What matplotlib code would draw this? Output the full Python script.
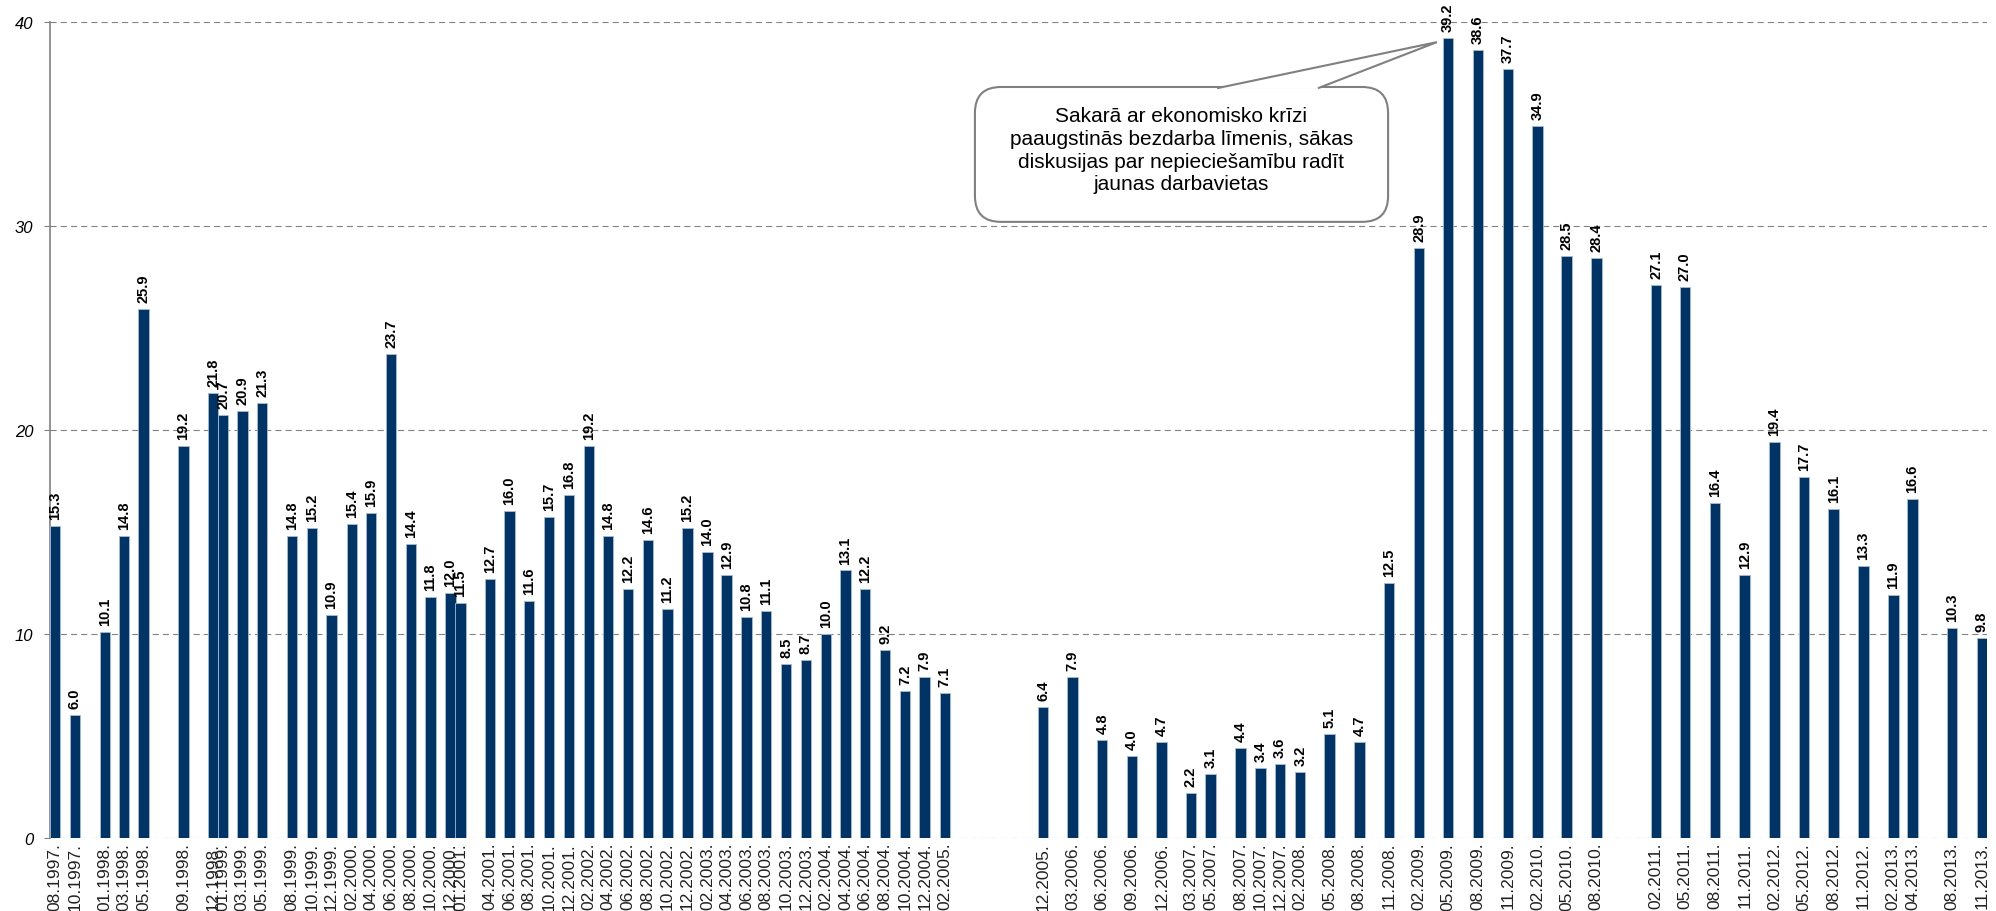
import matplotlib.pyplot as plt
import matplotlib.dates as mdates
import pandas as pd
from matplotlib.patches import FancyBboxPatch, Polygon

plt.rcParams['font.family'] = ['Liberation Sans', 'DejaVu Sans']

# datu punkti (mēnesis.gads)
months = [
    "08.1997", "10.1997", "01.1998", "03.1998", "05.1998", "09.1998", "12.1998",
    "01.1999", "03.1999", "05.1999", "08.1999", "10.1999", "12.1999", "02.2000",
    "04.2000", "06.2000", "08.2000", "10.2000", "12.2000", "01.2001", "04.2001",
    "06.2001", "08.2001", "10.2001", "12.2001", "02.2002", "04.2002", "06.2002",
    "08.2002", "10.2002", "12.2002", "02.2003", "04.2003", "06.2003", "08.2003",
    "10.2003", "12.2003", "02.2004", "04.2004", "06.2004", "08.2004", "10.2004",
    "12.2004", "02.2005", "12.2005", "03.2006", "06.2006", "09.2006", "12.2006",
    "03.2007", "05.2007", "08.2007", "10.2007", "12.2007", "02.2008", "05.2008",
    "08.2008", "11.2008", "02.2009", "05.2009", "08.2009", "11.2009", "02.2010",
    "05.2010", "08.2010", "02.2011", "05.2011", "08.2011", "11.2011", "02.2012",
    "05.2012", "08.2012", "11.2012", "02.2013", "04.2013", "08.2013", "11.2013",
]
values = [
    15.3, 6.0, 10.1, 14.8, 25.9, 19.2, 21.8,
    20.7, 20.9, 21.3, 14.8, 15.2, 10.9, 15.4,
    15.9, 23.7, 14.4, 11.8, 12.0, 11.5, 12.7,
    16.0, 11.6, 15.7, 16.8, 19.2, 14.8, 12.2,
    14.6, 11.2, 15.2, 14.0, 12.9, 10.8, 11.1,
    8.5, 8.7, 10.0, 13.1, 12.2, 9.2, 7.2,
    7.9, 7.1, 6.4, 7.9, 4.8, 4.0, 4.7,
    2.2, 3.1, 4.4, 3.4, 3.6, 3.2, 5.1,
    4.7, 12.5, 28.9, 39.2, 38.6, 37.7, 34.9,
    28.5, 28.4, 27.1, 27.0, 16.4, 12.9, 19.4,
    17.7, 16.1, 13.3, 11.9, 16.6, 10.3, 9.8,
]
y_ticks = [0, 10, 20, 30, 40]
note = ("Sakarā ar ekonomisko krīzi\n"
        "paaugstinās bezdarba līmenis, sākas\n"
        "diskusijas par nepieciešamību radīt\n"
        "jaunas darbavietas")

dates = pd.to_datetime(months, format="%m.%Y")
x = mdates.date2num(dates)

fig = plt.figure(figsize=(19.96, 9.12), dpi=100)
ax = fig.add_axes([0.02505, 0.0804, 0.97045, 0.8947])

ax.bar(x, values, width=32, color="#003366", edgecolor="#a9bcd0",
       linewidth=0.6, zorder=3)

for xi, v in zip(x, values):
    ax.annotate(f"{v:.1f}", (xi, v), xytext=(0, 5), textcoords="offset points",
                rotation=90, ha="center", va="bottom", fontsize=10.5,
                fontweight="bold", zorder=5)

ax.set_xlim(x[0] - 15.5, x[-1] + 15.5)
ax.set_ylim(0, 40)

ax.set_yticks(y_ticks)
ax.set_yticklabels([str(t) for t in y_ticks], fontsize=12, fontstyle="italic")
ax.tick_params(axis="y", length=4, color="#808080", pad=8)

ax.set_xticks(x)
ax.set_xticklabels([d.strftime("%m.%Y.") for d in dates], rotation=90,
                   fontsize=12.5, color="#222222")
ax.tick_params(axis="x", length=0, pad=3)

ax.set_axisbelow(True)
ax.yaxis.grid(True, color="#808080", linestyle=(0, (5.5, 3.7)), linewidth=0.8)
for s in ["top", "right", "bottom"]:
    ax.spines[s].set_visible(False)
ax.spines["left"].set_color("#808080")
ax.spines["left"].set_linewidth(1.2)

# izsaukuma lodziņš ar smaili uz 05.2009
x0, x1 = ax.get_xlim()
px_x = (x1 - x0) / 1937   # dienas uz pikseli
px_y = 40 / 816


def fx(f):
    return x0 + f * (x1 - x0)


def fy(f):
    return 40 * f


box = FancyBboxPatch((fx(0.4775), fy(0.7547)), fx(0.6908) - fx(0.4775),
                     fy(0.92) - fy(0.7547),
                     boxstyle="round,pad=0,rounding_size=%f" % (26 * px_x),
                     mutation_aspect=px_y / px_x,
                     facecolor="white", edgecolor="#808080", linewidth=1.5,
                     zorder=6)
ax.add_patch(box)

tip = (mdates.date2num(pd.Timestamp("2009-05-01")) - 34, 39.0)
wedge = Polygon([(fx(0.6025), fy(0.9185)), tip, (fx(0.6546), fy(0.9185))],
                closed=False, facecolor="white", edgecolor="#808080",
                linewidth=1.5, zorder=7)
ax.add_patch(wedge)

ax.text(fx(0.5841), fy(0.843), note, ha="center", va="center", fontsize=15,
        linespacing=1.25, zorder=8)

fig.savefig("out.png", dpi=100)
